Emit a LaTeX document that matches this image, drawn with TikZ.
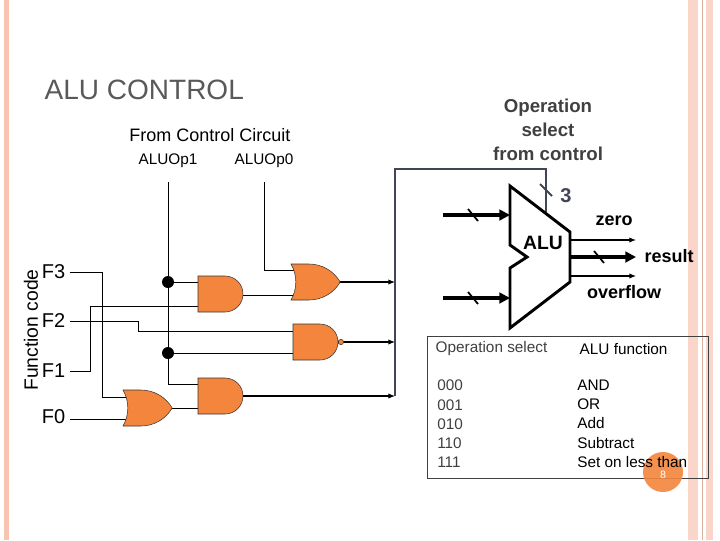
\documentclass[tikz,border=0pt]{standalone}
\usepackage{fontspec}
\setmainfont{Liberation Sans}
\usetikzlibrary{shapes.gates.logic.US,arrows.meta,backgrounds}
\definecolor{gateorange}{RGB}{244,133,60}
\definecolor{bordpink}{RGB}{247,196,178}
\definecolor{wiregray}{RGB}{64,70,84}
\begin{document}
\begin{tikzpicture}[x=0.75pt,y=-0.75pt,
		gate/.style={draw=black!80, fill=gateorange, thin, minimum width=31pt, minimum height=27pt, logic gate inputs=nn, inner sep=0pt},
		wire/.style={black, thin},
		outarrow/.style={thick, -{Latex[length=5pt,width=4pt]}},
		fatarrow/.style={line width=3pt, -{Triangle[length=8pt,width=8pt]}},
		dot/.style={circle, fill=black, inner sep=0pt, minimum size=9pt},
		lbl/.style={font=\fontsize{15}{17}\selectfont}]
	\useasboundingbox (0,0) rectangle (720,540);
	% slide borders
	\fill[bordpink] (4,0) rectangle (9,540);
	\fill[bordpink!70] (688,0) rectangle (698,540);
	\fill[bordpink!70] (706,0) rectangle (713,540);
	\draw[bordpink!90!black, thin] (702,0) -- (702,540);
	% titles
	\node[anchor=west, text=black!65, font=\fontsize{21}{24}\selectfont] (title) at (40,90) {ALU CONTROL};
	\node[font=\fontsize{13.5}{16}\selectfont] (from) at (210,135) {From Control Circuit};
	\node[font=\fontsize{11.5}{14}\selectfont] (op1) at (168,161) {ALUOp1};
	\node[font=\fontsize{11.5}{14}\selectfont] (op0) at (264,161) {ALUOp0};
	\node[align=center, text=black!75, font=\bfseries\fontsize{14}{18}\selectfont] (opsel) at (548,130) {Operation\\select\\from control};
	\node[rotate=90, font=\fontsize{14.5}{17}\selectfont] (fcode) at (31,330) {Function code};
	% function code inputs
	\node[lbl, anchor=east] (f3) at (70,272) {F3};
	\node[lbl, anchor=east] (f2) at (70,321) {F2};
	\node[lbl, anchor=east] (f1) at (70,371) {F1};
	\node[lbl, anchor=east] (f0) at (70,417) {F0};
	% gates
	\node[gate, and gate US] (and1) at (219,294) {};
	\node[gate, or gate US] (or1) at (312,282) {};
	\node[gate, nand gate US] (nand) at (314,342) {};
	\node[gate, and gate US] (and2) at (219,396) {};
	\node[gate, or gate US] (or0) at (144,408) {};
	\node[dot] (d1) at (168,282) {};
	\node[dot] (d2) at (168,353) {};
	\coordinate (op1b) at (168,182);
	\coordinate (op0b) at (264,182);
	\coordinate (btop) at (395,169);
	\coordinate (ctl) at (546,169);
	% wiring
	\begin{scope}[on background layer]
		\draw[wire] (op1b) -- (d1) -- (d2) |- (and2.center |- 0,384);
		\draw[wire] (d1) -- (and1.center |- d1);
		\draw[wire] (d2) -- (nand.center |- d2);
		\draw[wire] (op0b) |- (or1.center |- 0,270);
		\draw[wire] (and1.center |- 0,295) -- (or1.center |- 0,295);
		\draw[wire] (f3.east) -| (102,397) -- (or0.center |- 0,397);
		\draw[wire] (f2.east) -| (138,331) -- (nand.center |- 0,331);
		\draw[wire] (f1.east) -| (90,306) -- (and1.center |- 0,306);
		\draw[wire] (f0.east |- 0,419) -- (or0.center |- 0,419);
		\draw[wire] (or0.center) -- (and2.center |- or0.center);
		\draw[outarrow] (or1.center) -- (or1.center -| btop);
		\draw[outarrow] (nand.center) -- (nand.center -| btop);
		\draw[outarrow] (and2.center) -- (and2.center -| btop);
	\end{scope}
	\draw[wiregray, line width=2pt] (and2.center -| btop) -- (btop) -- (ctl) -- (546,212);
	\draw[wiregray, line width=1.5pt] (540,184) -- (552,196);
	\node[wiregray, font=\bfseries\fontsize{15}{17}\selectfont] (three) at (566,196) {3};
	% ALU
	\draw[line width=2.2pt, fill=white] (510,186) -- (570,232) -- (570,282) -- (510,328) -- (510,268) -- (527,257) -- (510,245) -- cycle;
	\node[font=\bfseries\fontsize{14.5}{16}\selectfont] (alu) at (543,243) {ALU};
	\coordinate (ina) at (443,215);
	\coordinate (inb) at (443,298);
	\draw[fatarrow] (ina) -- (510,215);
	\draw[fatarrow] (inb) -- (510,298);
	\draw[line width=1.3pt] (468,209) -- (478,221);
	\draw[line width=1.3pt] (468,292) -- (478,304);
	\draw[outarrow] (570,240) -- (636,240);
	\draw[fatarrow] (570,257) -- (636,257);
	\draw[line width=1.3pt] (594,251) -- (604,263);
	\draw[outarrow] (570,276) -- (636,276);
	\node[font=\bfseries\fontsize{13.5}{16}\selectfont] (zero) at (614,221) {zero};
	\node[font=\bfseries\fontsize{13.5}{16}\selectfont] (result) at (669,256) {result};
	\node[font=\bfseries\fontsize{13.5}{16}\selectfont] (ovf) at (624,292) {overflow};
	% table
	\draw[black!75, thin] (427,336) rectangle (708,478);
	\fill[gateorange, opacity=0.9] (663,472) circle (20);
	\node[white, font=\fontsize{8}{9}\selectfont] (pg) at (663,475) {8};
	\node[anchor=west, text=black!75, font=\fontsize{11.5}{14}\selectfont] (th1) at (431,349) {Operation select};
	\node[anchor=west, font=\fontsize{11.5}{14}\selectfont] (th2) at (575,349) {ALU function};
	\node[anchor=north west, align=left, text=black!75, font=\fontsize{11.5}{14.3}\selectfont, inner sep=0pt] (codes) at (437,380) {000\\001\\010\\110\\111};
	\node[anchor=north west, align=left, font=\fontsize{11.5}{14.3}\selectfont, inner sep=0pt] (funcs) at (577,380) {AND\\OR\\Add\\Subtract\\Set on less than};
\end{tikzpicture}
\end{document}
